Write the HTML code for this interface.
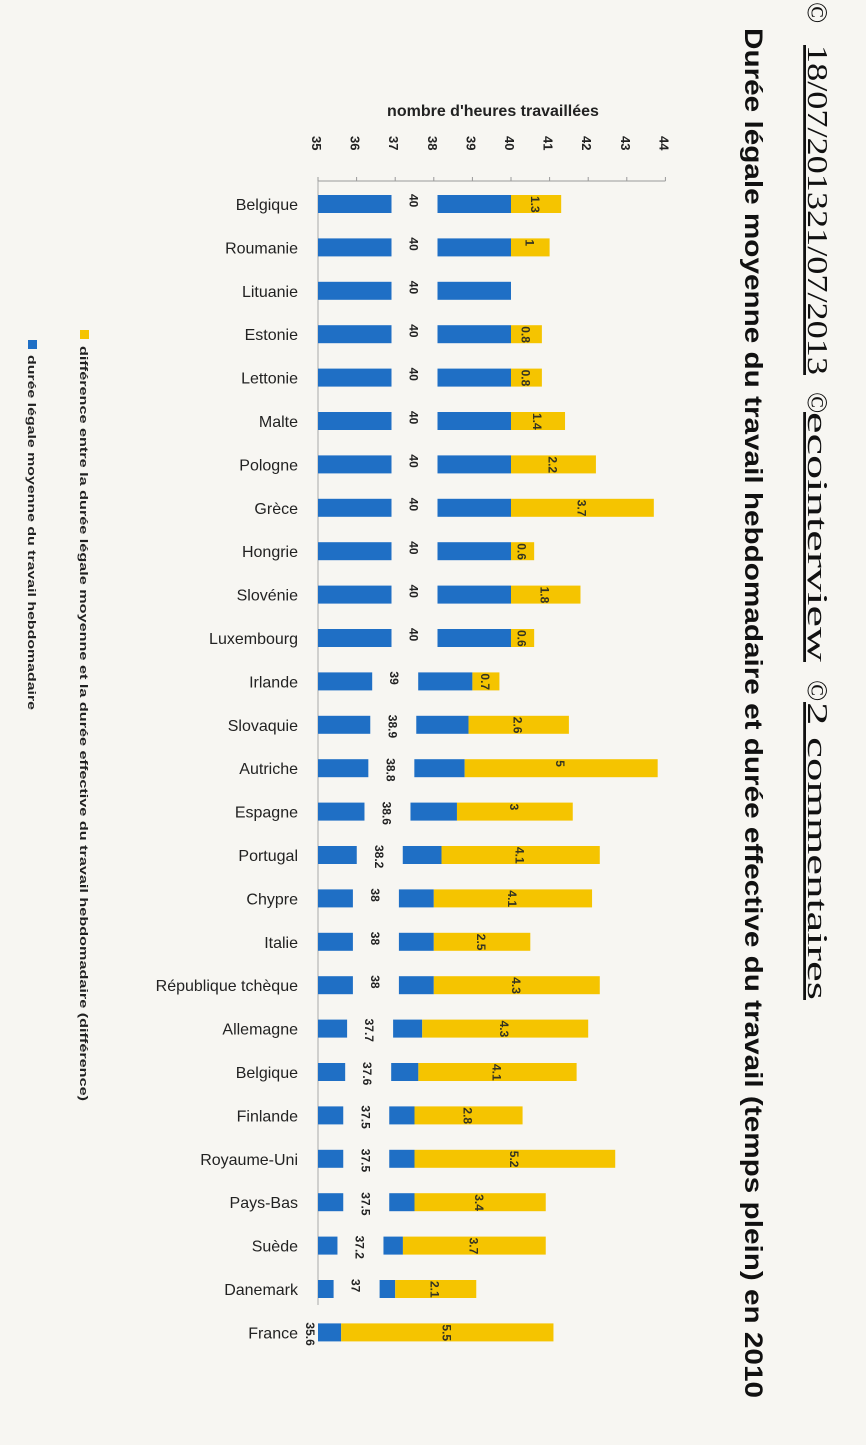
<!DOCTYPE html>
<html><head><meta charset="utf-8"><style>
body{margin:0;background:#f7f6f2;}
svg{display:block;font-family:"Liberation Sans",sans-serif;}
</style></head><body>
<svg id="c" width="866" height="1445" viewBox="0 0 866 1445">
<text transform="translate(745,28) rotate(90)" font-size="25" font-weight="bold" fill="#111" textLength="1370" lengthAdjust="spacingAndGlyphs">Durée légale moyenne du travail hebdomadaire et durée effective du travail (temps plein) en 2010</text>
<g font-family="Liberation Serif" font-size="28" fill="#111">
<text transform="translate(808,2) rotate(90)">©</text>
<text transform="translate(808,45) rotate(90)" text-decoration="underline" textLength="330" lengthAdjust="spacingAndGlyphs">18/07/201321/07/2013</text>
<text transform="translate(808,392) rotate(90)">©</text>
<text transform="translate(808,412) rotate(90)" text-decoration="underline" textLength="250" lengthAdjust="spacingAndGlyphs">ecointerview</text>
<text transform="translate(808,680) rotate(90)">©</text>
<text transform="translate(808,702) rotate(90)" text-decoration="underline" textLength="298" lengthAdjust="spacingAndGlyphs">2 commentaires</text>
</g>
<text x="493" y="116" text-anchor="middle" font-size="16" font-weight="bold" fill="#222">nombre d'heures travaillées</text>
<g>
<rect x="80" y="330" width="9" height="9" fill="#f5c400"/>
<text transform="translate(80,346) rotate(90)" font-size="11" font-weight="bold" fill="#222" textLength="755" lengthAdjust="spacingAndGlyphs">différence entre la durée légale moyenne et la durée effective du travail hebdomadaire (différence)</text>
<rect x="28" y="340" width="9" height="9" fill="#1f6fc5"/>
<text transform="translate(28,355) rotate(90)" font-size="11" font-weight="bold" fill="#222" textLength="355" lengthAdjust="spacingAndGlyphs">durée légale moyenne du travail hebdomadaire</text>
</g>
<g id="plot"></g>
</svg>
<script>
const countries=["Belgique","Roumanie","Lituanie","Estonie","Lettonie","Malte","Pologne","Grèce","Hongrie","Slovénie","Luxembourg","Irlande","Slovaquie","Autriche","Espagne","Portugal","Chypre","Italie","République tchèque","Allemagne","Belgique","Finlande","Royaume-Uni","Pays-Bas","Suède","Danemark","France"];
const legal=[40,40,40,40,40,40,40,40,40,40,40,39,38.9,38.8,38.6,38.2,38,38,38,37.7,37.6,37.5,37.5,37.5,37.2,37,35.6];
const diff=[1.3,1,0,0.8,0.8,1.4,2.2,3.7,0.6,1.8,0.6,0.7,2.6,5,3,4.1,4.1,2.5,4.3,4.3,4.1,2.8,5.2,3.4,3.7,2.1,5.5];
const ticks=[35,36,37,38,39,40,41,42,43,44];
const NS="http://www.w3.org/2000/svg";
const X0=318,PX=38.6,Y0=204,STEP=43.4,BH=18;
const x=v=>X0+(v-35)*PX;
const y=i=>Y0+i*STEP;
const g=document.getElementById('plot');
function mk(t,a){const e=document.createElementNS(NS,t);for(const k in a)e.setAttribute(k,a[k]);g.appendChild(e);return e;}
let e=mk('line',{x1:X0,y1:181,x2:x(44),y2:181,stroke:'#999','stroke-width':1});


e=mk('line',{x1:X0,y1:181,x2:X0,y2:1305,stroke:'#aaa','stroke-width':1});


ticks.forEach(t=>{
 let l=mk('line',{x1:x(t),y1:177,x2:x(t),y2:181,stroke:'#999'});
 
 
 let tx=mk('text',{transform:`translate(${x(t)-6},136) rotate(90)`,'font-size':13,'font-weight':'bold',fill:'#222'});
 tx.textContent=t;
 
 
});
countries.forEach((c,i)=>{
 const cy=y(i),x1=x(legal[i]),mid=(X0+x1)/2,gap=Math.min(46,(x1-X0)*0.6);
 let b=mk('rect',{x:X0,y:cy-BH/2,width:x1-X0,height:BH,fill:'#1f6fc5'});
 
 
 if(diff[i]>0){
  let d=mk('rect',{x:x1,y:cy-BH/2,width:x(legal[i]+diff[i])-x1,height:BH,fill:'#f5c400'});
  
  
  let dt=mk('text',{transform:`translate(${x1+(x(legal[i]+diff[i])-x1)/2-5},${cy-8}) rotate(90)`,'font-size':12,'font-weight':'bold',fill:'#332'});
  dt.textContent=diff[i];
  
  
 }
 if(i<countries.length-1){
  let w=mk('rect',{x:mid-gap/2,y:cy-BH/2-1,width:gap,height:BH+2,fill:'#f7f6f2'});
  
  
 }
 let lt=mk('text',{transform:`translate(${i<countries.length-1?mid-5:X0-12},${cy-10}) rotate(90)`,'font-size':12,'font-weight':'bold',fill:'#222'});
 lt.textContent=legal[i];
 
 
 let ct=mk('text',{x:298,y:cy+6,'text-anchor':'end','font-size':16,fill:'#222'});
 ct.textContent=c;
 
 
});
</script>
</body></html>
